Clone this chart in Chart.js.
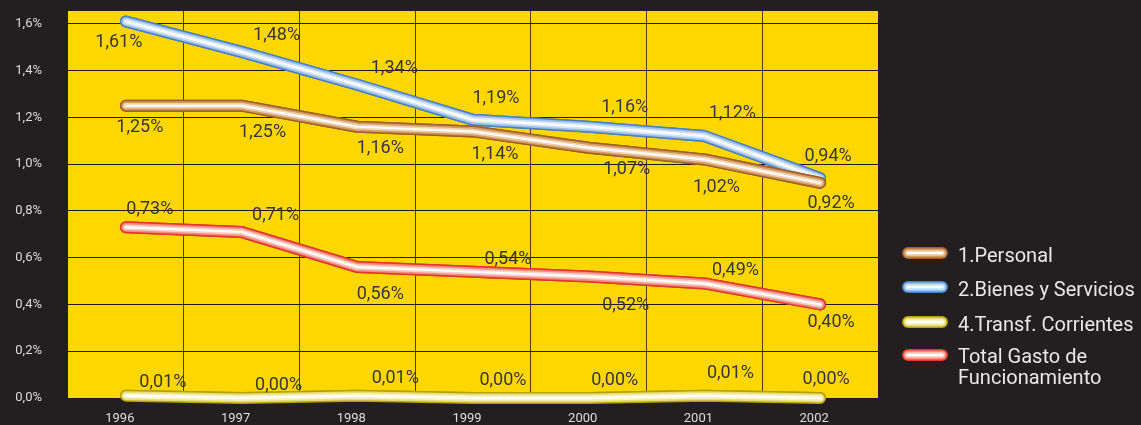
<!DOCTYPE html>
<html>
<head>
<meta charset="utf-8">
<script src="https://cdn.jsdelivr.net/npm/chart.js@4.4.1/dist/chart.umd.min.js"></script>
<style>
  body { margin: 0; background: #231f20; }
  #wrap { width: 1141px; height: 425px; }
</style>
</head>
<body>
<div id="wrap"><canvas id="myChart" width="1141" height="425"></canvas></div>
<script>
// values (percent)
const years = ['1996', '1997', '1998', '1999', '2000', '2001', '2002'];
const personal = [1.25, 1.25, 1.16, 1.14, 1.07, 1.02, 0.92];
const bienes = [1.61, 1.48, 1.34, 1.19, 1.16, 1.12, 0.94];
const transf = [0.01, 0.00, 0.01, 0.00, 0.00, 0.01, 0.00];
const totalGasto = [0.73, 0.71, 0.56, 0.54, 0.52, 0.49, 0.40];
const seriesNames = ['1.Personal', '2.Bienes y Servicios', '4.Transf. Corrientes', 'Total Gasto de Funcionamiento'];

// tube colours: edge, mid, light
const tubes = [
    ['#9e602a', '#d49a62', '#f2d2b0'],
    ['#4a80c6', '#9cc0ea', '#d6e6f8'],
    ['#b4a000', '#e8dc78', '#f8f2c4'],
    ['#e03630', '#f38c7e', '#fbd0c8']
];

// where each value label sits relative to its point
const labelShift = [
    [[14, 22], [21, 27], [23, 22], [22, 23], [38, 22], [12, 28], [11, 21]],
    [[-7, 21], [35, -16], [37, -16], [23, -21], [36, -19], [28, -23], [8, -22]],
    [[37, -13], [37, -13], [38, -17], [30, -18], [26, -18], [26, -22], [6, -19]],
    [[24, -18], [34, -16], [23, 27], [35, -12], [37, 29], [31, -13], [11, 18]]
];

function pct(v) {
    return v.toFixed(2).replace('.', ',') + '%';
}

function strokeTube(ctx, pts, c) {
    let widths = [12, 9, 5.5, 2];
    let colors = [c[0], c[1], c[2], '#ffffff'];
    ctx.save();
    ctx.lineCap = 'round';
    ctx.lineJoin = 'round';
    for (let k = 0; k < widths.length; k++) {
        ctx.beginPath();
        for (let i = 0; i < pts.length; i++) {
            if (i === 0) ctx.moveTo(pts[i].x, pts[i].y);
            else ctx.lineTo(pts[i].x, pts[i].y);
        }
        ctx.lineWidth = widths[k];
        ctx.strokeStyle = colors[k];
        ctx.stroke();
    }
    ctx.restore();
}

const tubePlugin = {
    id: 'tubes',
    beforeDraw(chart) {
        let a = chart.chartArea;
        let ctx = chart.ctx;
        ctx.save();
        ctx.fillStyle = '#ffd700';
        ctx.fillRect(a.left, a.top, a.right - a.left, a.bottom - a.top);
        ctx.restore();
    },
    afterDatasetDraw(chart, args) {
        strokeTube(chart.ctx, args.meta.data, tubes[args.index]);
    },
    afterDatasetsDraw(chart) {
        let ctx = chart.ctx;
        ctx.save();
        ctx.font = '18px Roboto';
        ctx.fillStyle = '#363636';
        ctx.textAlign = 'center';
        ctx.textBaseline = 'middle';
        chart.data.datasets.forEach((ds, d) => {
            let meta = chart.getDatasetMeta(d);
            meta.data.forEach((p, i) => {
                let s = labelShift[d][i];
                ctx.fillText(pct(ds.data[i]), p.x + s[0], p.y + s[1]);
            });
        });
        ctx.restore();
    },
    afterDraw(chart) {
        // legend on the right
        let ctx = chart.ctx;
        let x0 = chart.chartArea.right + 30;
        let rows = [253, 287, 322, 355];
        ctx.save();
        ctx.font = '20px Roboto';
        ctx.fillStyle = '#e8e8e8';
        ctx.textAlign = 'left';
        ctx.textBaseline = 'middle';
        seriesNames.forEach((name, d) => {
            let y = rows[d];
            strokeTube(ctx, [{x: x0, y: y}, {x: x0 + 34, y: y}], tubes[d]);
            if (d === 3) {
                ctx.fillText('Total Gasto de', x0 + 50, y + 3);
                ctx.fillText('Funcionamiento', x0 + 50, y + 24);
            } else {
                ctx.fillText(name, x0 + 50, y + 4);
            }
        });
        ctx.restore();
    }
};

let allSeries = [personal, bienes, transf, totalGasto];

let data = {
    labels: years,
    datasets: allSeries.map((vals, d) => ({
        label: seriesNames[d],
        data: vals,
        borderColor: tubes[d][0],
        borderWidth: 12,
        borderCapStyle: 'round',
        borderJoinStyle: 'round',
        pointRadius: 0,
        pointHoverRadius: 0,
        tension: 0
    }))
};

let config = {
    type: 'line',
    data: data,
    options: {
        responsive: false,
        animation: false,
        layout: {padding: {top: 11, right: 263, left: 0, bottom: 0}},
        plugins: {legend: {display: false}, tooltip: {enabled: false}},
        scales: {
            x: {
                offset: true,
                afterFit: s => { s.height = 27; s.paddingLeft = 0; s.paddingRight = 0; },
                grid: {
                    offset: true,
                    drawTicks: false,
                    color: ctx => (ctx.type === 'tick' && ctx.index > 0) ? '#4a3d05' : 'rgba(0,0,0,0)',
                    lineWidth: 1
                },
                border: {display: false},
                ticks: {
                    color: '#dddddd',
                    font: {family: 'Roboto', size: 13},
                    padding: 13,
                    labelOffset: -6,
                    maxRotation: 0
                }
            },
            y: {
                min: 0,
                max: 1.655,
                afterFit: s => { s.width = 68; s.paddingTop = 0; s.paddingBottom = 0; },
                afterBuildTicks: s => { s.ticks = s.ticks.filter(t => t.value <= 1.6001); },
                grid: {drawTicks: false, color: '#1e1a10', lineWidth: 1},
                border: {display: false},
                ticks: {
                    stepSize: 0.2,
                    includeBounds: false,
                    autoSkip: false,
                    color: '#dddddd',
                    font: {family: 'Roboto', size: 13},
                    padding: 26,
                    callback: v => v.toFixed(1).replace('.', ',') + '%'
                }
            }
        }
    },
    plugins: [tubePlugin]
};

let myChart = new Chart(document.getElementById('myChart'), config);
</script>
</body>
</html>
